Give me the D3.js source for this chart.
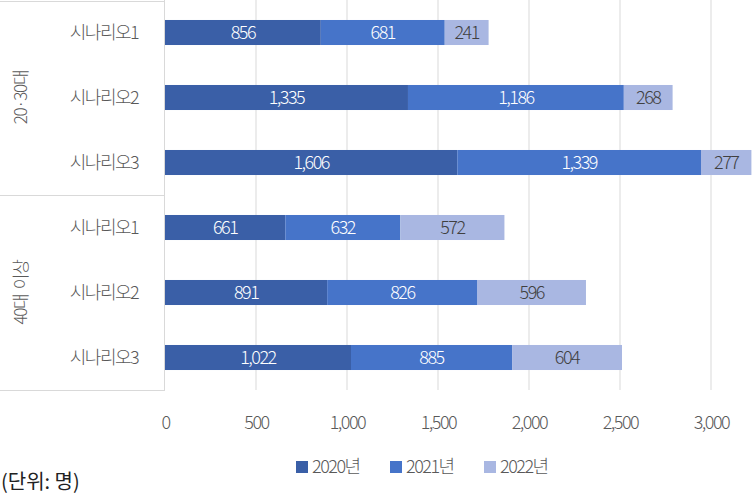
<!DOCTYPE html>
<html><head><meta charset="utf-8">
<script src="https://cdn.jsdelivr.net/npm/d3@7/dist/d3.min.js"></script>
<style>body{margin:0;background:#fff;} svg{display:block;font-family:"Noto Sans CJK KR","Noto Sans",sans-serif;font-weight:300;}</style>
</head><body><svg id="c" width="752" height="494"></svg>
<script>
const groups = ["20·30대", "40대 이상"];
const scenarios = ["시나리오1", "시나리오2", "시나리오3"];
const seriesNames = ["2020년", "2021년", "2022년"];
const v2020 = [856, 1335, 1606, 661, 891, 1022];
const v2021 = [681, 1186, 1339, 632, 826, 885];
const v2022 = [241, 268, 277, 572, 596, 604];
const xTicks = [0, 500, 1000, 1500, 2000, 2500, 3000];
const colors = ["#3a5fa7", "#4674c9", "#a9b7e2"];
const labelColors = ["#ffffff", "#ffffff", "#404040"];

const rows = [];
groups.forEach((g, gi) => scenarios.forEach((s, si) => rows.push({key: gi + "-" + si, group: g, name: s, idx: gi * 3 + si})));
const data = rows.map(r => ({key: r.key, "2020년": v2020[r.idx], "2021년": v2021[r.idx], "2022년": v2022[r.idx]}));

const svg = d3.select("#c");
const mLeft = 165, mTop = 0, plotW = 546, plotH = 390;
const x = d3.scaleLinear().domain([0, 3000]).range([mLeft, mLeft + plotW]);
const y = d3.scaleBand().domain(rows.map(r => r.key)).range([mTop, mTop + plotH]).paddingInner(0.615).paddingOuter(0.3075);
const textCol = "#595959";
const fs = 18, ls = "-1.5";

// grid
svg.append("g").selectAll("line").data(xTicks.slice(1)).join("line")
  .attr("x1", d => x(d)).attr("x2", d => x(d)).attr("y1", mTop).attr("y2", mTop + plotH)
  .attr("stroke", "#d9d9d9").attr("stroke-width", 1);

// category frame
const frame = svg.append("g").attr("stroke", "#d9d9d9").attr("stroke-width", 1).attr("fill", "none");
frame.append("line").attr("x1", mLeft - 0.5).attr("x2", mLeft - 0.5).attr("y1", mTop).attr("y2", mTop + plotH);
[1, 195, 390].forEach(yy => frame.append("line").attr("x1", 0).attr("x2", mLeft).attr("y1", yy + 0.5).attr("y2", yy + 0.5));

// stacked bars
const stack = d3.stack().keys(seriesNames)(data);
const layers = svg.append("g").selectAll("g").data(stack).join("g");
layers.each(function(layer, li) {
  const g = d3.select(this);
  g.selectAll("rect").data(layer).join("rect")
    .attr("x", d => x(d[0])).attr("width", d => x(d[1]) - x(d[0]))
    .attr("y", d => y(d.data.key)).attr("height", y.bandwidth())
    .attr("fill", colors[li]);
  g.selectAll("text").data(layer).join("text")
    .attr("x", d => (x(d[0]) + x(d[1])) / 2).attr("y", d => y(d.data.key) + y.bandwidth() / 2)
    .attr("dy", "0.36em").attr("text-anchor", "middle")
    .attr("fill", labelColors[li]).attr("font-size", fs).attr("letter-spacing", ls)
    .text(d => d3.format(",")(d[1] - d[0]));
});

// category labels
svg.append("g").selectAll("text").data(rows).join("text")
  .attr("x", 104).attr("y", d => y(d.key) + y.bandwidth() / 2).attr("dy", "0.36em")
  .attr("text-anchor", "middle").attr("fill", textCol).attr("font-size", fs).attr("letter-spacing", ls)
  .text(d => d.name);

// group labels
svg.append("g").selectAll("text").data(groups).join("text")
  .attr("transform", (d, i) => `translate(21,${97.5 + i * 195}) rotate(-90)`)
  .attr("text-anchor", "middle").attr("dy", "0.36em").attr("fill", textCol).attr("font-size", 17).attr("letter-spacing", "-1.3")
  .attr("word-spacing", "3")
  .text(d => d);

// x axis
const xa = svg.append("g").attr("transform", `translate(0,${mTop + plotH})`)
  .call(d3.axisBottom(x).tickValues(xTicks).tickSize(0).tickPadding(26).tickFormat(d3.format(",")));
xa.select(".domain").remove();
xa.selectAll("text").attr("fill", textCol).attr("font-size", fs).attr("letter-spacing", ls)
  .attr("font-family", "Noto Sans CJK KR").attr("font-weight", 300);

// legend
const legX = [296, 390, 484];
const leg = svg.append("g").selectAll("g").data(seriesNames).join("g")
  .attr("transform", (d, i) => `translate(${legX[i]},467)`);
leg.append("rect").attr("x", 0).attr("y", -6).attr("width", 12).attr("height", 12).attr("fill", (d, i) => colors[i]);
leg.append("text").attr("x", 16).attr("dy", "0.36em").attr("fill", textCol).attr("font-size", fs).attr("letter-spacing", ls).text(d => d);

// unit
svg.append("text").attr("x", 1).attr("y", 482).attr("dy", "0.36em").attr("fill", "#222").attr("font-size", 20).attr("font-weight", 400).text("(단위: 명)");
</script></body></html>
